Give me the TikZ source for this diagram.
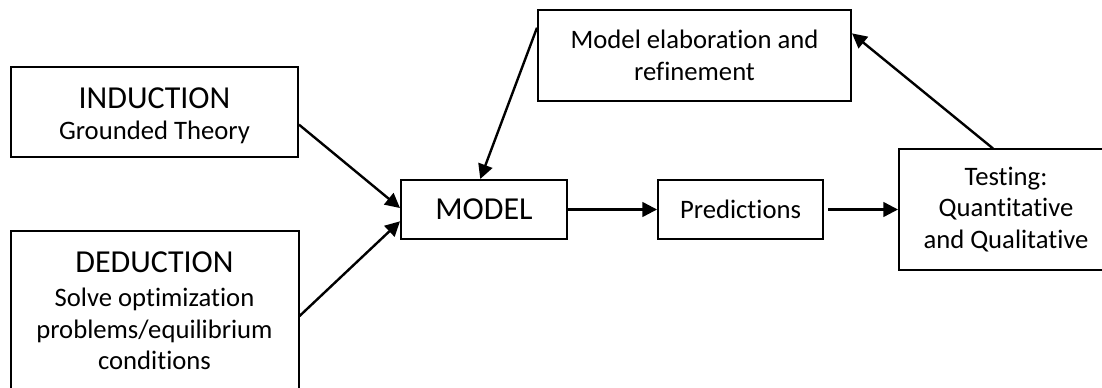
\documentclass[tikz,border=0pt]{standalone}
\usepackage{fontspec}
\setmainfont[Ligatures=NoCommon]{Carlito}
\usepackage{tikz}
\usetikzlibrary{arrows.meta}
\newcommand{\bigtxt}{\fontsize{24}{28}\selectfont}
\newcommand{\smalltxt}{\fontsize{20}{23.5}\selectfont}

\begin{document}
\begin{tikzpicture}[x=0.75pt,y=-0.75pt]
\tikzstyle{box}=[draw,line width=1.5pt,rectangle,align=center,inner sep=0pt,font=\smalltxt]
\tikzstyle{arr}=[line width=1.8pt,-{Triangle[length=11pt,width=11pt]}]
\useasboundingbox (0,0) rectangle (1102,388);

\node [box,minimum width=215.25pt,minimum height=67.5pt] (ind) at (154.5,112) {{\bigtxt\rule{0pt}{21pt}INDUCTION}\\Grounded Theory};
\node [box,below of=ind,node distance=149.25pt,minimum width=216pt,minimum height=120pt] (ded) {{\bigtxt DEDUCTION}\\[2pt]Solve optimization\\problems/equilibrium\\conditions};

\node [box,font=\bigtxt,minimum width=124.5pt,minimum height=44.25pt] (mdl) at (484,209.5) {MODEL};
\node [box,right of=mdl,node distance=192.4pt,minimum width=123.75pt,minimum height=44.25pt] (pred) {Predictions};
\node [box,right of=pred,node distance=199.1pt,minimum width=160.5pt,minimum height=90pt] (test) {Testing:\\Quantitative\\and Qualitative};
\node [box,minimum width=234.75pt,minimum height=68.25pt] (elab) at (694.5,55.5) {Model elaboration and\\[1pt]refinement};

\path[arr]
(ind.-5.2) edge (mdl.179)
(ded.-2.4) edge (mdl.188.6)
(elab.170.7) edge (mdl.97.6)
(mdl.east) edge (pred.west)
(pred.east) edge[shorten <=3pt] (test.west)
(test.102.2) edge (elab.8.1);
\end{tikzpicture}
\end{document}
